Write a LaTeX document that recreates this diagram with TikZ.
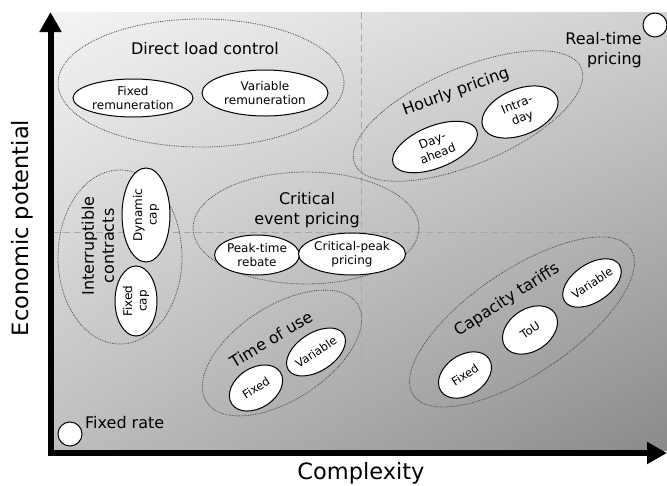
\documentclass[tikz,border=0pt]{standalone}
\usepackage{fontspec}
\setmainfont{DejaVu Sans}
\usetikzlibrary{arrows.meta,shapes.geometric,shadings}
\definecolor{epgrid}{HTML}{A8A8A8}
\definecolor{epdot}{HTML}{4A4A4A}
\definecolor{epul}{HTML}{F4F4F4}
\definecolor{epur}{HTML}{D0D0D0}
\definecolor{epll}{HTML}{BEBEBE}
\definecolor{eplr}{HTML}{8A8A8A}
\newcommand\grpfont{\fontsize{16}{20}\selectfont}
\newcommand\optfont{\fontsize{12}{14.5}\selectfont}
\newcommand\smfont{\fontsize{11.5}{14}\selectfont}
\newcommand\axfont{\fontsize{22.5}{26}\selectfont}
\tikzset{
  grpell/.style={draw=epdot,densely dotted,line width=0.8pt,ellipse,inner sep=0pt},
  optell/.style={draw=black,fill=white,ellipse,line width=1pt,inner sep=0pt,
                 align=center,font=\optfont},
  ttl/.style={align=center,font=\grpfont,inner sep=0pt},
  dotpt/.style={draw=black,fill=white,circle,line width=1pt,minimum size=24pt,inner sep=0pt},
  axisline/.style={line width=6pt,{Triangle[length=20pt,width=21pt]}-{Triangle[length=20pt,width=21pt]}},
  guideline/.style={epgrid,dash pattern=on 7pt off 4pt,line width=0.8pt},
}
\begin{document}
\begin{tikzpicture}[x=1pt,y=-1pt]
  \useasboundingbox (0,0) rectangle (667,485);
  % background and quadrants
  \shade[upper left=epul,upper right=epur,lower left=epll,lower right=eplr]
    (52,12) rectangle (667,450);
  \coordinate (gl) at (52,232); \coordinate (gr) at (667,232);
  \coordinate (gt) at (361,12); \coordinate (gb) at (361,450);
  \draw[guideline] (gl) -- (gr);
  \draw[guideline] (gt) -- (gb);
  % axes
  \coordinate (ytip) at (50.5,12);
  \coordinate (orig) at (50.5,453);
  \coordinate (xtip) at (667,453);
  \draw[axisline] (ytip) -- (orig) -- (xtip);
  \node[font=\axfont,rotate=90] (ylab) at (22,228) {Economic potential};
  \node[font=\axfont] (xlab) at (361,473) {Complexity};
  % direct load control
  \node[grpell,minimum width=286pt,minimum height=128pt] (dlc) at (201,83) {};
  \node[ttl] (dlct) at (205,49) {Direct load control};
  \node[optell,minimum width=120pt,minimum height=38pt] (fixrem) at (133,98) {Fixed\\remuneration};
  \node[optell,minimum width=126pt,minimum height=46pt] (varrem) at (265,93) {Variable\\remuneration};
  % interruptible contracts
  \node[grpell,minimum width=124pt,minimum height=174pt] (ic) at (120,257) {};
  \node[ttl,rotate=90] (ict) at (98,246) {Interruptible\\contracts};
  \node[optell,rotate=90,minimum width=94pt,minimum height=48pt] (dyncap) at (146,215) {Dynamic\\cap};
  \node[optell,rotate=90,minimum width=70pt,minimum height=42pt] (fixcap) at (136,301) {Fixed\\cap};
  % critical event pricing
  \node[grpell,minimum width=226pt,minimum height=112pt] (cep) at (306,228) {};
  \node[ttl] (cept) at (307,210) {Critical\\event pricing};
  \node[optell,minimum width=80pt,minimum height=40pt] (ptr) at (257,255) {Peak-time\\rebate};
  \node[optell,minimum width=96pt,minimum height=42pt] (cpp) at (352,254) {Critical-peak\\pricing};
  % hourly pricing
  \node[grpell,rotate=23,minimum width=246pt,minimum height=96pt] (hp) at (468,116) {};
  \node[ttl,rotate=20] (hpt) at (456,92) {Hourly pricing};
  \node[optell,rotate=22,minimum width=90pt,minimum height=42pt] (dayah) at (435,147) {Day-\\ahead};
  \node[optell,rotate=22,minimum width=80pt,minimum height=46pt] (intra) at (520,112) {Intra-\\day};
  % time of use
  \node[grpell,rotate=33,minimum width=180pt,minimum height=94pt] (tou) at (282,353) {};
  \node[ttl,rotate=31] (tout) at (271,339) {Time of use};
  \node[optell,rotate=33,font=\smfont,minimum width=58pt,minimum height=40pt] (toufix) at (256,388) {Fixed};
  \node[optell,rotate=33,font=\smfont,minimum width=64pt,minimum height=38pt] (touvar) at (316,352) {Variable};
  % capacity tariffs
  \node[grpell,rotate=34,minimum width=262pt,minimum height=104pt] (ct) at (522,322) {};
  \node[ttl,rotate=33] (ctt) at (507,300) {Capacity tariffs};
  \node[optell,rotate=34,font=\smfont,minimum width=58pt,minimum height=40pt] (ctfix) at (465,375) {Fixed};
  \node[optell,rotate=34,font=\smfont,minimum width=60pt,minimum height=42pt] (cttou) at (530,330) {ToU};
  \node[optell,rotate=34,font=\smfont,minimum width=64pt,minimum height=38pt] (ctvar) at (592,283) {Variable};
  % corner points
  \node[dotpt] (fr) at (70,434) {};
  \node[ttl,anchor=west] (frt) at (85,423) {Fixed rate};
  \node[dotpt] (rtp) at (655,25) {};
  \node[ttl,align=right,anchor=east] (rtpt) at (642,50) {Real-time\\pricing};
\end{tikzpicture}
\end{document}
